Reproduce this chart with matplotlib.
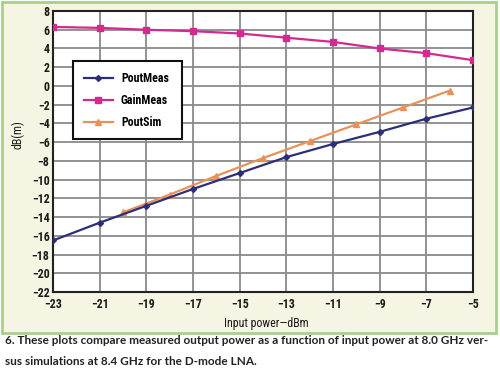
import numpy as np
import matplotlib
matplotlib.use('Agg')
import matplotlib.pyplot as plt
from matplotlib.patches import Rectangle

# data
x_meas = [-23, -21, -19, -17, -15, -13, -11, -9, -7, -5]
pout_meas = [-16.5, -14.6, -12.8, -11.0, -9.3, -7.6, -6.2, -4.9, -3.5, -2.3]
gain_meas = [6.3, 6.2, 6.0, 5.85, 5.6, 5.15, 4.7, 4.0, 3.5, 2.75]
x_sim = [-20, -18, -16, -14, -12, -10, -8, -6]
pout_sim = [-13.5, -11.6, -9.6, -7.7, -5.9, -4.1, -2.3, -0.5]

x_ticks = [-23, -21, -19, -17, -15, -13, -11, -9, -7, -5]
y_ticks = list(range(-22, 9, 2))

caption_1 = "6. These plots compare measured output power as a function of input power at 8.0 GHz ver-"
caption_2 = "sus simulations at 8.4 GHz for the D-mode LNA."

plt.rcParams['font.family'] = ['Roboto Condensed', 'DejaVu Sans']
plt.rcParams['font.weight'] = 'bold'

fig = plt.figure(figsize=(5.0, 3.76), dpi=100)
fig.patch.set_facecolor('white')

# cream panel with green border behind the chart
fig.patches.append(Rectangle((0.004, 0.114), 0.988, 0.88, transform=fig.transFigure,
                             facecolor='#f6f4e2', edgecolor='#a9cf8f', linewidth=2, zorder=-1))

ax = fig.add_axes([0.106, 0.2234, 0.84, 0.7473])
ax.set_zorder(2)
ax.set_facecolor('white')

ax.plot(x_meas, pout_meas, color='#2c2f78', linewidth=1.6, marker='D', markersize=3, label='PoutMeas', zorder=4)
ax.plot(x_meas, gain_meas, color='#d22a8e', linewidth=1.6, marker='s', markersize=4.5, label='GainMeas', zorder=4)
ax.plot(x_sim, pout_sim, color='#e8925a', linewidth=1.6, marker='^', markersize=4.5, label='PoutSim', zorder=3)

ax.set_xlim(-23, -5)
ax.set_ylim(-22, 8)
ax.set_xticks(x_ticks)
ax.set_yticks(y_ticks)
ax.set_xticklabels([f'\u2212{abs(v)}' for v in x_ticks])
ax.set_yticklabels([f'\u2212{abs(v)}' if v < 0 else str(v) for v in y_ticks])
ax.tick_params(length=0, labelsize=8.6, labelcolor='#1a1a1a')
ax.tick_params(axis='x', pad=4)
ax.tick_params(axis='y', pad=2.5)
ax.grid(True, color='#8a8a8a', linewidth=1.3)
ax.set_axisbelow(True)
for s in ax.spines.values():
    s.set_linewidth(1.5)
    s.set_color('#222222')

ax.set_xlabel('Input power\u2014dBm', fontsize=8.6, color='#1a1a1a')
ax.set_ylabel('dB(m)', fontsize=8.6, color='#1a1a1a')
ax.xaxis.set_label_coords(0.508, -0.088)
ax.yaxis.set_label_coords(-0.068, 0.56)

leg = ax.legend(loc='upper left', bbox_to_anchor=(0.048, 0.552, 0.26, 0.27), mode='expand',
                fontsize=8.6, frameon=True, fancybox=False, handlelength=2.4, handletextpad=0.7,
                borderpad=0.9, labelspacing=0.75, borderaxespad=0)
leg.get_frame().set_edgecolor('#111111')
leg.get_frame().set_linewidth(1.5)
leg.get_frame().set_facecolor('white')
leg.get_frame().set_alpha(1)

cap_font = ['Lato', 'DejaVu Sans']
t1 = fig.text(0.01, 0.095, caption_1, fontsize=9, fontweight='bold', color='#222222',
              family=cap_font, va='center')
t2 = fig.text(0.01, 0.038, caption_2, fontsize=9, fontweight='bold', color='#222222',
              family=cap_font, va='center')

# fit the first caption line to the reference width (~483 px)
renderer = fig.canvas.get_renderer()
w = t1.get_window_extent(renderer).width
size = 9 * 483 / w
t1.set_fontsize(size)
t2.set_fontsize(size)

fig.savefig('out.png', dpi=100)
